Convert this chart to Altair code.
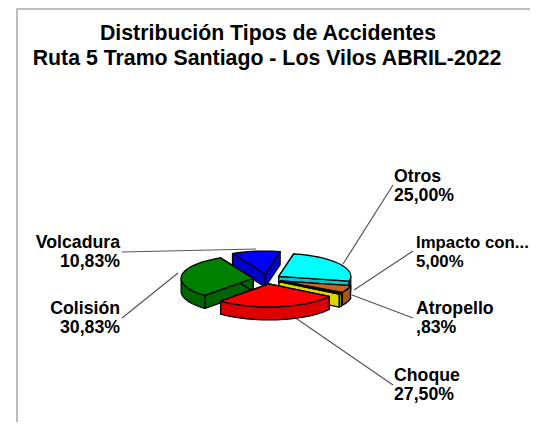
import math
import altair as alt
import pandas as pd

# ---- data
slices = ["Otros", "Impacto con...", "Atropello", "Choque", "Colisión", "Volcadura"]
values = [25.00, 5.00, 0.83, 27.50, 30.83, 10.83]
shown = ["25,00%", "5,00%", ",83%", "27,50%", "30,83%", "10,83%"]
top_colors = ["#00FFFF", "#C8641E", "#E6E600", "#FF0000", "#008000", "#0000FF"]
wall_colors = ["#00C8C8", "#A8551A", "#D8D800", "#DC0000", "#006400", "#0000C8"]
draw_order = [5, 0, 4, 1, 2, 3]

# ---- layout (screen pixels)
W, H = 538, 430
CX, CY = 267, 279
A, B, DEPTH = 72, 23, 13
EXPL_X, EXPL_Y = 14, 5
START = 12.0

title_lines = ["Distribución Tipos de Accidentes", "Ruta 5 Tramo Santiago - Los Vilos ABRIL-2022"]
title_pos = [(268, 34), (267, 59)]

# label anchor x, first-line y, align, size, leader from (x,y) to (x,y)
label_layout = [
    (394, 177, "left", 17.7, (343, 264), (393, 185)),
    (416, 243, "left", 16.8, (354, 290), (413, 251)),
    (416, 309, "left", 17.7, (352, 295), (413, 318)),
    (394, 376, "left", 17.7, (281, 308), (393, 385)),
    (120, 309, "right", 17.7, (178, 273), (122, 318)),
    (120, 243, "right", 17.7, (256, 249), (122, 252)),
]


def pt(cx, cy, ang, drop=0.0):
    r = math.radians(ang)
    return (cx + A * math.sin(r), cy - B * math.cos(r) + drop)


def poly(points, fill, stroke="black", width=1.3):
    pts = list(points) + [points[0]]
    df = pd.DataFrame({"x": [p[0] for p in pts], "y": [p[1] for p in pts], "i": range(len(pts))})
    return alt.Chart(df).mark_line(fill=fill, stroke=stroke, strokeWidth=width, strokeJoin="round").encode(
        x=X, y=Y, order="i:Q"
    )


X = alt.X("x:Q", scale=alt.Scale(domain=[8, W - 8], range=[0, W - 16]), axis=None)
Y = alt.Y("y:Q", scale=alt.Scale(domain=[8, H - 8], range=[0, H - 16]), axis=None)

layers = []

# frame of the picture
frame = pd.DataFrame({"x": [17, 17, W - 8], "y": [H - 8, 9, 9], "i": [0, 1, 2]})
layers.append(alt.Chart(frame).mark_line(stroke="#BDBDBD", strokeWidth=2).encode(x=X, y=Y, order="i:Q"))

# leaders
for lay in label_layout:
    (x0, y0), (x1, y1) = lay[4], lay[5]
    d = pd.DataFrame({"x": [x0, x1], "y": [y0, y1], "i": [0, 1]})
    layers.append(alt.Chart(d).mark_line(stroke="#555555", strokeWidth=1.2).encode(x=X, y=Y, order="i:Q"))

# slices
total = sum(values)
angles = []
a0 = START
for v in values:
    a1 = a0 + v / total * 360
    angles.append((a0, a1))
    a0 = a1

for k in draw_order:
    s, e = angles[k]
    mid = math.radians((s + e) / 2)
    cx = CX + EXPL_X * math.sin(mid)
    cy = CY - EXPL_Y * math.cos(mid)
    n = max(3, int((e - s) / 3))
    arc = [s + (e - s) * j / n for j in range(n + 1)]
    apex, apex_d = (cx, cy), (cx, cy + DEPTH)
    # radial walls
    for ang in (s, e):
        layers.append(poly([apex, pt(cx, cy, ang), pt(cx, cy, ang, DEPTH), apex_d], wall_colors[k]))
    # outer wall: only the part of the rim facing the viewer
    front = [a for a in arc if math.cos(math.radians(a)) < 0.02]
    if len(front) >= 2:
        wall = [pt(cx, cy, a) for a in front] + [pt(cx, cy, a, DEPTH) for a in reversed(front)]
        layers.append(poly(wall, wall_colors[k]))
    # top face
    layers.append(poly([apex] + [pt(cx, cy, a) for a in arc], top_colors[k]))

# title
tdf = pd.DataFrame({"x": [p[0] for p in title_pos], "y": [p[1] for p in title_pos], "t": title_lines})
layers.append(alt.Chart(tdf).mark_text(font="Liberation Sans", fontWeight="bold", fontSize=21.3,
                                        align="center", baseline="middle", color="black").encode(x=X, y=Y, text="t:N"))

# labels
for k, lay in enumerate(label_layout):
    d = pd.DataFrame({"x": [lay[0], lay[0]], "y": [lay[1], lay[1] + 19],
                      "t": [slices[k], shown[k]]})
    layers.append(alt.Chart(d).mark_text(font="Liberation Sans", fontWeight="bold", fontSize=lay[3],
                                          align=lay[2], baseline="middle", color="black").encode(x=X, y=Y, text="t:N"))

chart = alt.layer(*layers).properties(
    width=W - 16, height=H - 16, padding=0, background="white",
    autosize=alt.AutoSizeParams(type="none"),
).configure_view(stroke=None)

chart.save("out.html", embed_options={"renderer": "svg", "actions": False})
